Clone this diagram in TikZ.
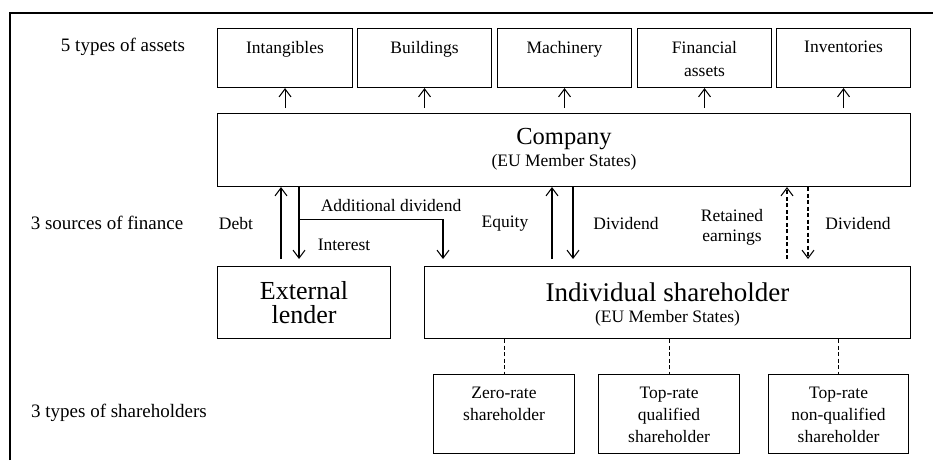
\documentclass[tikz,border=0pt]{standalone}
\usepackage{fontspec}
\setmainfont{Liberation Serif}
\newfontfamily\tnr{Liberation Serif}
\usetikzlibrary{arrows.meta}
\begin{document}
\begin{tikzpicture}[x=1pt,y=-1pt,
  box/.style={draw,line width=1.05pt,inner sep=0pt,anchor=north west},
  lbl/.style={inner sep=0pt,font=\tnr\fontsize{17.5}{20}\selectfont,align=center},
  row/.style={inner sep=0pt,font=\tnr\fontsize{19}{22}\selectfont,align=center},
  sml/.style={inner sep=0pt,font=\tnr\fontsize{17.5}{22}\selectfont,align=center},
  big/.style={inner sep=0pt,font=\tnr\fontsize{24.5}{30}\selectfont,align=center},
  arr/.style={line width=1.05pt,-{Straight Barb[length=8pt,width=12pt,line width=1.05pt]}},
  dsh/.style={dash pattern=on 4pt off 2.5pt}]
\useasboundingbox (0,0) rectangle (933,460);
% frame
\coordinate (fa) at (10,460);
\coordinate (fb) at (10,13);
\coordinate (fc) at (933,13);
\draw[line width=1.2pt] (fa) -- (fb) -- (fc);
% row labels
\node[row] (l1) at (123,47) {5 types of assets};
\node[row] (l2) at (107,223) {3 sources of finance};
\node[row] (l3) at (119,413) {3 types of shareholders};
% asset boxes
\node[box,minimum width=135pt,minimum height=59pt] (a1) at (217,28) {};
\node[box,minimum width=134pt,minimum height=59pt] (a2) at (357,28) {};
\node[box,minimum width=134pt,minimum height=59pt] (a3) at (497,28) {};
\node[box,minimum width=134pt,minimum height=59pt] (a4) at (637,28) {};
\node[box,minimum width=134pt,minimum height=59pt] (a5) at (776,28) {};
\node[lbl,anchor=north] (t1) at ([yshift=-13pt]a1.north) {Intangibles};
\node[lbl,anchor=north] (t2) at ([yshift=-13pt]a2.north) {Buildings};
\node[lbl,anchor=north] (t3) at ([yshift=-13pt]a3.north) {Machinery};
\node[lbl,anchor=north,font=\tnr\fontsize{17.5}{23}\selectfont] (t4) at ([yshift=-13pt]a4.north) {Financial\\assets};
\node[lbl,anchor=north] (t5) at ([yshift=-13pt]a5.north) {Inventories};
% company
\node[box,minimum width=693pt,minimum height=73pt] (co) at (217,113) {};
\node[big] (cot) at ([yshift=11pt]co.center) {Company};
\node[lbl] (cos) at ([yshift=-12pt]co.center) {(EU Member States)};
% arrows to assets
\foreach \i in {1,...,5}{
  \draw[arr,shorten <=5pt] (a\i.south |- co.north) -- (a\i.south);
}
% lower boxes
\node[box,minimum width=173pt,minimum height=72pt] (el) at (217,266) {};
\node[big,font=\tnr\fontsize{26}{24}\selectfont] (elt) at (el.center) {External\\lender};
\node[box,minimum width=486pt,minimum height=72pt] (is) at (424,266) {};
\node[big,font=\tnr\fontsize{27}{30}\selectfont] (ist) at ([yshift=10pt]is.center) {Individual shareholder};
\node[lbl] (iss) at ([yshift=-16pt]is.center) {(EU Member States)};
% finance arrows
\draw[arr,shorten <=7pt] ([xshift=64pt]el.north west) -- ([xshift=64pt]el.north west |- co.south);
\draw[arr,shorten >=7pt] ([xshift=82pt]el.north west |- co.south) -- ([xshift=82pt]el.north west);
\draw[arr,shorten >=7pt] ([xshift=82pt,yshift=-32pt]co.south west) -| ([xshift=19pt]is.north west);
\draw[arr,shorten <=7pt] ([xshift=128pt]is.north west) -- ([xshift=128pt]is.north west |- co.south);
\draw[arr,shorten >=7pt] ([xshift=149pt]is.north west |- co.south) -- ([xshift=149pt]is.north west);
\draw[arr,dsh,shorten <=7pt] ([xshift=363pt]is.north west) -- ([xshift=363pt]is.north west |- co.south);
\draw[arr,dsh,shorten >=7pt] ([xshift=384pt]is.north west |- co.south) -- ([xshift=384pt]is.north west);
% finance labels
\node[lbl] (fdebt) at (236,224) {Debt};
\node[lbl] (fadd) at (391,206) {Additional dividend};
\node[lbl] (fint) at (344,245) {Interest};
\node[lbl] (feq) at (505,224) {Equity};
\node[lbl] (fdiv) at (626,224) {Dividend};
\node[lbl] (fret) at (732,227) {Retained\\earnings};
\node[lbl] (fdiv2) at (858,224) {Dividend};
% shareholder boxes
\node[box,minimum width=141pt,minimum height=79pt] (s1) at (433,374) {};
\node[box,minimum width=141pt,minimum height=79pt] (s2) at (598,374) {};
\node[box,minimum width=140pt,minimum height=79pt] (s3) at (768,374) {};
\node[sml,anchor=north] (u1) at ([yshift=-13pt]s1.north) {Zero-rate\\shareholder};
\node[sml,anchor=north] (u2) at ([yshift=-13pt]s2.north) {Top-rate\\qualified\\shareholder};
\node[sml,anchor=north] (u3) at ([yshift=-13pt]s3.north) {Top-rate\\non-qualified\\shareholder};
\foreach \i in {1,2,3}{
  \draw[line width=1.05pt,dsh] (is.south -| s\i.north) -- (s\i.north);
}
\end{tikzpicture}
\end{document}
